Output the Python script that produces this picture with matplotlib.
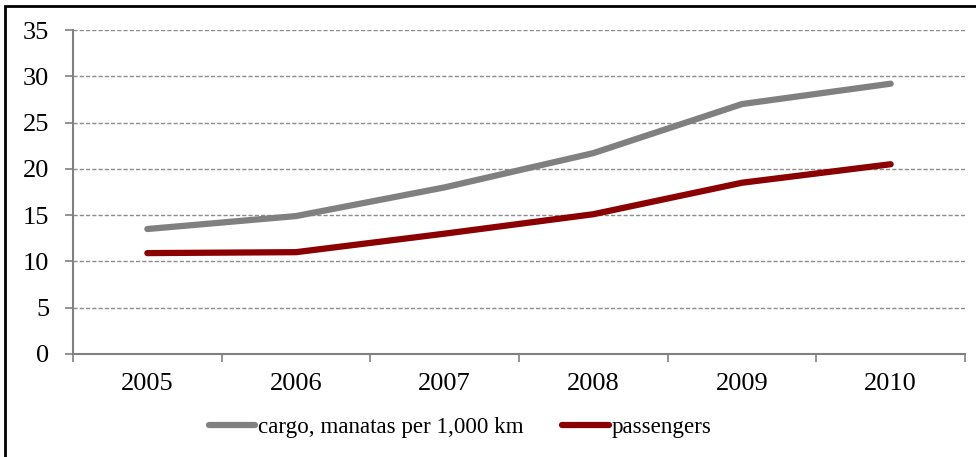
import matplotlib
matplotlib.use("Agg")
import matplotlib.pyplot as plt
from matplotlib.patches import Rectangle

years = ["2005", "2006", "2007", "2008", "2009", "2010"]
cargo = [13.5, 14.9, 18.0, 21.7, 27.0, 29.2]
passengers = [10.9, 11.0, 13.0, 15.1, 18.5, 20.5]
yticks = [0, 5, 10, 15, 20, 25, 30, 35]

plt.rcParams['font.family'] = ['Liberation Serif', 'DejaVu Serif']

W, H = 976, 457
fig = plt.figure(figsize=(W/100, H/100), dpi=100)
ax = fig.add_axes([73/W, 1-354/H, (965-73)/W, (354-30)/H])

x = list(range(len(years)))
ax.plot(x, cargo, color='#808080', lw=4.5, solid_capstyle='round',
        label='cargo, manatas per 1,000 km', zorder=3)
ax.plot(x, passengers, color='#8B0000', lw=4.5, solid_capstyle='round',
        label='passengers', zorder=3)

ax.set_xlim(-0.5, len(years)-0.5)
ax.set_ylim(0, 35)
ax.set_yticks(yticks)
ax.set_yticklabels([str(v) for v in yticks], fontsize=19)
ax.set_xticks(x)
ax.set_xticklabels(years, fontsize=19)
ax.tick_params(axis='x', length=0, pad=14)
ax.set_xticks([i + 0.5 for i in range(-1, len(years))], minor=True)
ax.tick_params(axis='x', which='minor', length=6, color='#808080', width=1.2, direction='out')
ax.tick_params(axis='y', length=6, color='#808080', width=1.2, direction='out', pad=11)
ax.yaxis.grid(True, linestyle=(0, (3, 1.5)), color='#8c8c8c', lw=1)
ax.set_axisbelow(True)
for s in ['top', 'right']:
    ax.spines[s].set_visible(False)
for s in ['left', 'bottom']:
    ax.spines[s].set_color('#808080')
    ax.spines[s].set_linewidth(1.5)

leg = fig.legend(loc='center', bbox_to_anchor=(460/W, 1-427/H), ncol=2, frameon=False,
                 fontsize=16.6, handlelength=2.0, handletextpad=0.12, columnspacing=1.7)

fig.patches.append(Rectangle((5/W, -0.01), 1.1, 1-6/H+0.01, transform=fig.transFigure,
                             fill=False, edgecolor='black', lw=2))

fig.savefig('out.png', dpi=100, facecolor='white')
